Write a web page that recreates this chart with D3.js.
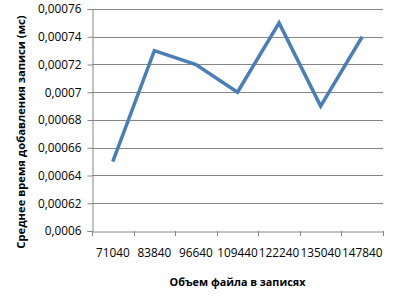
<!DOCTYPE html>
<html>
<head>
<meta charset="utf-8">
<script src="https://cdn.jsdelivr.net/npm/d3@7"></script>
<style>
  body { margin: 0; background: #fff; }
  text { font-family: "Open Sans", sans-serif; }
</style>
</head>
<body>
<svg id="chart" width="399" height="298"></svg>
<script>
const sizes = ["71040", "83840", "96640", "109440", "122240", "135040", "147840"];
const times = [0.00065, 0.00073, 0.00072, 0.0007, 0.00075, 0.00069, 0.00074];
const yTicks = [0.0006, 0.00062, 0.00064, 0.00066, 0.00068, 0.0007, 0.00072, 0.00074, 0.00076];

const margin = {top: 9, right: 16, bottom: 67, left: 92};
const width = 399, height = 298;

const svg = d3.select("#chart");

const x = d3.scaleBand()
    .domain(sizes)
    .range([margin.left, width - margin.right]);

const y = d3.scaleLinear()
    .domain([0.0006, 0.00076])
    .range([height - margin.bottom, margin.top]);

const fmt = d => String(+d.toFixed(6)).replace(".", ",");

// gridlines
svg.append("g")
    .selectAll("line")
    .data(yTicks.slice(1))
    .join("line")
    .attr("x1", margin.left)
    .attr("x2", width - margin.right)
    .attr("y1", d => Math.round(y(d)) + 0.5)
    .attr("y2", d => Math.round(y(d)) + 0.5)
    .attr("stroke", "#868686")
    .attr("stroke-width", 1);

// y axis
svg.append("g")
    .attr("transform", `translate(${margin.left + 0.5},0)`)
    .call(d3.axisLeft(y).tickValues(yTicks).tickFormat(fmt).tickSize(5).tickPadding(6))
    .call(g => g.selectAll("path, line").attr("stroke", "#868686"))
    .call(g => g.selectAll("text").attr("fill", "#000").style("font-size", "11.8px").style("font-family", "'Open Sans', sans-serif"));

// x axis
svg.append("g")
    .attr("transform", `translate(0,${Math.round(y(0.0006)) + 0.5})`)
    .call(d3.axisBottom(x).tickSize(0).tickPadding(17))
    .call(g => g.select(".domain").attr("stroke", "#868686"))
    .call(g => g.selectAll("text").attr("fill", "#000").style("font-size", "11.8px").style("font-family", "'Open Sans', sans-serif"));

// x tick marks at band boundaries
svg.append("g")
    .selectAll("line")
    .data(sizes.concat([null]))
    .join("line")
    .attr("x1", (d, i) => Math.round(margin.left + i * x.step()) + 0.5)
    .attr("x2", (d, i) => Math.round(margin.left + i * x.step()) + 0.5)
    .attr("y1", Math.round(y(0.0006)))
    .attr("y2", Math.round(y(0.0006)) + 5)
    .attr("stroke", "#868686");

// line
const line = d3.line()
    .x((d, i) => x(sizes[i]) + x.bandwidth() / 2)
    .y(d => y(d));

svg.append("path")
    .datum(times)
    .attr("fill", "none")
    .attr("stroke", "#4A7EBB")
    .attr("stroke-width", 3.5)
    .attr("stroke-linejoin", "miter")
    .attr("d", line);

// axis titles
svg.append("text")
    .attr("x", (margin.left + width - margin.right) / 2)
    .attr("y", 282)
    .attr("dy", "0.35em")
    .attr("text-anchor", "middle")
    .style("font-size", "10.8px")
    .style("font-weight", "bold")
    .text("Объем файла в записях");

svg.append("text")
    .attr("transform", "translate(21,132) rotate(-90)")
    .attr("dy", "0.35em")
    .attr("text-anchor", "middle")
    .style("font-size", "11.2px")
    .style("font-weight", "bold")
    .text("Среднее время добавления записи (мс)");
</script>
</body>
</html>
